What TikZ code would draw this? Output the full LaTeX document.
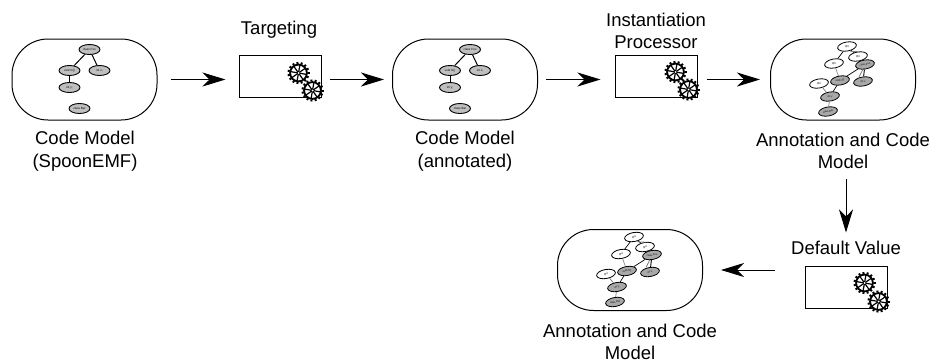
\documentclass[tikz,border=0pt]{standalone}
\usepackage{fontspec}
\setmainfont{Liberation Sans}
\usetikzlibrary{arrows.meta,shapes.geometric}
\tikzset{
  model/.style={draw=black, line width=1pt, rounded corners=36pt, minimum width=145pt, minimum height=81pt, inner sep=0pt},
  proc/.style={draw=black, line width=1pt, minimum width=82pt, minimum height=42pt, inner sep=0pt},
  caption/.style={align=center, font=\fontsize{18.5}{22.5}\selectfont, inner sep=0pt},
  flow/.style={line width=1pt, -{Stealth[length=23pt,width=14pt,inset=7pt]}},
  elem/.style={ellipse, draw=black, line width=.9pt, fill=black!25, minimum width=21pt, minimum height=10pt, inner sep=0pt, font=\fontsize{3}{3}\selectfont},
  gelem/.style={ellipse, draw=black, line width=.8pt, fill=black!34, minimum width=19pt, minimum height=9pt, inner sep=0pt, rotate=10, font=\fontsize{2.5}{3}\selectfont},
  welem/.style={gelem, fill=white},
  gear/.pic={
    \foreach \a in {0,24,...,336} \draw[line width=2pt, black] (\a:8) -- (\a:11);
    \fill[white] (0,0) circle (9);
    \draw[line width=1.8pt, black] (0,0) circle (8.4);
    \foreach \a in {10,55,100,145} \draw[line width=1.2pt, black] (\a:8) -- (\a+180:8);
    \fill[white] (0,0) circle (1);
  },
  codetree/.pic={
    \node[elem] (foo) at (5,-30) {class Foo};
    \node[elem] (m) at (-15,-9) {void m()};
    \node[elem] (x) at (15,-9) {int x;};
    \node[elem] (y) at (-15,8) {int y;};
    \node[elem] (bar) at (-5,29) {class Bar};
    \draw[line width=1pt] (foo) -- (m);
    \draw[line width=1pt] (foo) -- (x);
    \draw[line width=1pt] (m) -- (y);
  },
  annotgraph/.pic={
    \node[welem] (a) at (4,-33) {@A};
    \node[welem] (b) at (15,-23) {@A};
    \node[welem] (c) at (-9,-16) {@A};
    \node[welem] (d) at (-24,4) {@A};
    \node[gelem] (e) at (22,-15) {class Foo};
    \node[gelem] (f) at (-3,1) {void m()};
    \node[gelem] (g) at (20,2) {int x;};
    \node[gelem] (h) at (-13,17) {int y;};
    \node[gelem] (i) at (-15,32) {class Bar};
    \draw[line width=.7pt] (a) -- (c);
    \draw[line width=.7pt] (a) -- (b);
    \draw[line width=.7pt, black!50] ([xshift=2pt]a.south) -- ([xshift=2pt]b.north);
    \draw[line width=.6pt, black!60] (b) -- (e);
    \draw[line width=.7pt, black!45] (c) -- (f);
    \draw[line width=.7pt] (e) -- (f);
    \draw[line width=.9pt] (e) -- (g);
    \draw[line width=.7pt, black!55] ([xshift=-3pt]e.south) -- ([xshift=-3pt]g.north);
    \draw[line width=.6pt, black!60] (d) -- (h);
    \draw[line width=.7pt] (f) -- (h);
    \draw[line width=.6pt, black!60] (h) -- (i);
  }
}
\begin{document}
\begin{tikzpicture}[x=1pt, y=-1pt]
\useasboundingbox (0,0) rectangle (931,362);
% models
\node[model] (code) at (84.5,79.5) {};
\node[model] (annotated) at (465,79.5) {};
\node[model] (weaved) at (843,79.5) {};
\node[model] (result) at (630,270) {};
\pic at (code.center) {codetree};
\pic at (annotated.center) {codetree};
\pic at (weaved.center) {annotgraph};
\pic at (result.center) {annotgraph};
% processors
\node[proc] (targeting) at (280,76) {};
\node[proc] (instantiation) at (656,76) {};
\node[proc] (default) at (846,287) {};
\pic at ([xshift=-23pt,yshift=3pt]targeting.east) {gear};
\pic at ([xshift=-9pt,yshift=7pt]targeting.south east) {gear};
\pic at ([xshift=-22pt,yshift=4pt]instantiation.east) {gear};
\pic at ([xshift=-9pt,yshift=8pt]instantiation.south east) {gear};
\pic at ([xshift=-23pt,yshift=4pt]default.east) {gear};
\pic at ([xshift=-9pt,yshift=7pt]default.south east) {gear};
% captions
\node[caption] (codetext) at (85,151) {Code Model\\(SpoonEMF)};
\node[caption] (targetingtext) at (279,30) {Targeting};
\node[caption] (annotatedtext) at (465,151) {Code Model\\(annotated)};
\node[caption] (insttext) at (656,31) {Instantiation\\Processor};
\node[caption] (weavedtext) at (843,151) {Annotation and Code\\Model};
\node[caption] (defaulttext) at (846,248) {Default Value};
\node[caption] (resulttext) at (630,342) {Annotation and Code\\Model};
% flow
\draw[flow, shorten <=13pt, shorten >=13pt] (code.east) -- (code.east -| targeting.west);
\draw[flow, shorten <=8pt, shorten >=8pt] (targeting.east |- code.east) -- (annotated.west);
\draw[flow, shorten <=8pt, shorten >=14pt] (annotated.east) -- (annotated.east -| instantiation.west);
\draw[flow, shorten <=9pt, shorten >=10pt] (instantiation.east |- weaved.west) -- (weaved.west);
\draw[flow, shorten <=58pt, shorten >=33pt] (weaved.south -| default.north) -- (default.north);
\draw[flow, shorten <=30pt, shorten >=18pt] (default.west |- result.east) -- (result.east);
\end{tikzpicture}
\end{document}
